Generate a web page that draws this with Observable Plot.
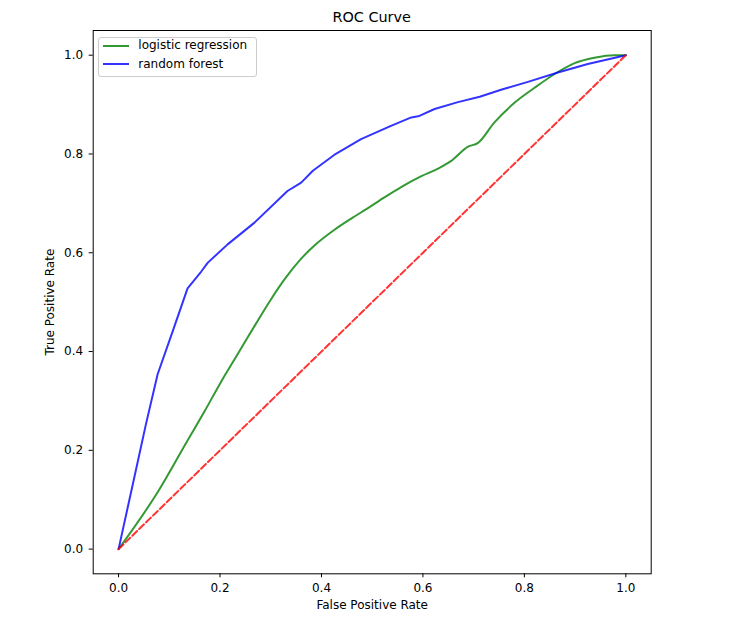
<!DOCTYPE html>
<html>
<head>
<meta charset="utf-8">
<script src="https://cdn.jsdelivr.net/npm/d3@7"></script>
<script src="https://cdn.jsdelivr.net/npm/@observablehq/plot@0.6"></script>
<style>
  body { margin: 0; background: #fff; font-family: "DejaVu Sans", sans-serif; }
  #wrap { position: relative; width: 746px; height: 629px; }
  #title { height: 26px; box-sizing: border-box; padding-top: 10px; font-size: 14.4px; line-height: 14.4px;
           width: 746px; position: relative; }
  #title span { position: absolute; left: 371.7px; transform: translateX(-50%); white-space: nowrap; color: #000; }
  #legend { position: absolute; left: 98.3px; top: 36.7px; width: 158.4px; height: 40.6px; box-sizing: border-box;
            border: 1px solid #cccccc; border-radius: 3px; background: rgba(255,255,255,0.8); }
  .lg-line { position: absolute; width: 26.6px; height: 2px; }
  .lg-text { position: absolute; font-size: 12px; line-height: 12px; white-space: nowrap; color: #000; }
</style>
</head>
<body>
<div id="wrap">
  <div id="title"><span></span></div>
  <div id="chart"></div>
  <div id="legend"></div>
</div>
<script>
// ---- data ----
const title = "ROC Curve";
const xLabel = "False Positive Rate";
const yLabel = "True Positive Rate";
const seriesNames = ["logistic regression", "random forest"];
const seriesColors = ["#008000", "#0000ff"];

const fprLR = [0, 0.077, 0.136, 0.169, 0.200, 0.235, 0.270, 0.300, 0.330, 0.360, 0.390, 0.425, 0.460, 0.491, 0.524, 0.557, 0.597, 0.629, 0.656, 0.689, 0.708, 0.741, 0.781, 0.820, 0.866, 0.899, 0.938, 0.978, 1];
const tprLR = [0, 0.115, 0.220, 0.278, 0.335, 0.395, 0.455, 0.505, 0.550, 0.588, 0.618, 0.646, 0.670, 0.690, 0.712, 0.733, 0.755, 0.770, 0.786, 0.815, 0.822, 0.864, 0.904, 0.934, 0.966, 0.984, 0.995, 1.000, 1];

const fprRF = [0, 0.031, 0.054, 0.077, 0.107, 0.136, 0.163, 0.176, 0.215, 0.268, 0.333, 0.360, 0.383, 0.425, 0.478, 0.537, 0.577, 0.593, 0.623, 0.669, 0.712, 0.754, 0.807, 0.866, 0.925, 1];
const tprRF = [0, 0.145, 0.253, 0.354, 0.442, 0.528, 0.562, 0.580, 0.617, 0.661, 0.725, 0.742, 0.766, 0.798, 0.830, 0.857, 0.874, 0.877, 0.891, 0.905, 0.916, 0.930, 0.946, 0.965, 0.982, 1];

const diagX = [0, 1];
const diagY = [0, 1];

const xTicks = [0, 0.2, 0.4, 0.6, 0.8, 1.0];
const yTicks = [0, 0.2, 0.4, 0.6, 0.8, 1.0];

// ---- build tables ----
const lr = fprLR.map((x, i) => ({x, y: tprLR[i]}));
const rf = fprRF.map((x, i) => ({x, y: tprRF[i]}));
const diag = diagX.map((x, i) => ({x, y: diagY[i]}));

const fmt = d3.format(".1f");

const chart = Plot.plot({
  width: 746,
  height: 603,
  marginTop: 4,
  marginBottom: 55.7,
  marginLeft: 92.7,
  marginRight: 95.3,
  style: {fontFamily: "DejaVu Sans", fontSize: "12px", background: "white", color: "black", overflow: "visible"},
  x: {domain: [-0.05, 1.05]},
  y: {domain: [-0.05, 1.05]},
  marks: [
    Plot.line(lr, {x: "x", y: "y", curve: "monotone-x", stroke: seriesColors[0], strokeOpacity: 0.8, strokeWidth: 2}),
    Plot.line(rf, {x: "x", y: "y", stroke: seriesColors[1], strokeOpacity: 0.8, strokeWidth: 2}),
    Plot.line(diag, {x: "x", y: "y", stroke: "#ff0000", strokeOpacity: 0.8, strokeWidth: 2, strokeDasharray: "6.7,2.9"}),
    Plot.frame({stroke: "black", strokeWidth: 1}),
    Plot.axisX({ticks: xTicks, tickFormat: fmt, tickSize: 4, tickPadding: 6, fontSize: 12, label: null}),
    Plot.axisY({ticks: yTicks, tickFormat: fmt, tickSize: 4, tickPadding: 6, fontSize: 12, label: null}),
    Plot.text([xLabel], {text: d => d, frameAnchor: "bottom", textAnchor: "middle", lineAnchor: "middle", dy: 31, fontSize: 12}),
    Plot.text([yLabel], {text: d => d, frameAnchor: "left", textAnchor: "middle", lineAnchor: "middle", rotate: -90, dx: -43, fontSize: 12})
  ]
});
document.getElementById("chart").appendChild(chart);
document.querySelector("#title span").textContent = title;

// legend
const legend = document.getElementById("legend");
const rowY = [45.7, 64.3];
seriesNames.forEach((name, i) => {
  const line = document.createElement("div");
  line.className = "lg-line";
  line.style.left = (102.7 - 98.3 - 1) + "px";
  line.style.top = (rowY[i] - 1 - 36.7 - 1) + "px";
  line.style.background = seriesColors[i];
  line.style.opacity = 0.8;
  legend.appendChild(line);
  const t = document.createElement("div");
  t.className = "lg-text";
  t.style.left = (138.3 - 98.3 - 1) + "px";
  t.style.top = (rowY[i] + 3.6 - 10.15 - 36.7 - 1) + "px";
  t.textContent = name;
  legend.appendChild(t);
});
</script>
</body>
</html>
